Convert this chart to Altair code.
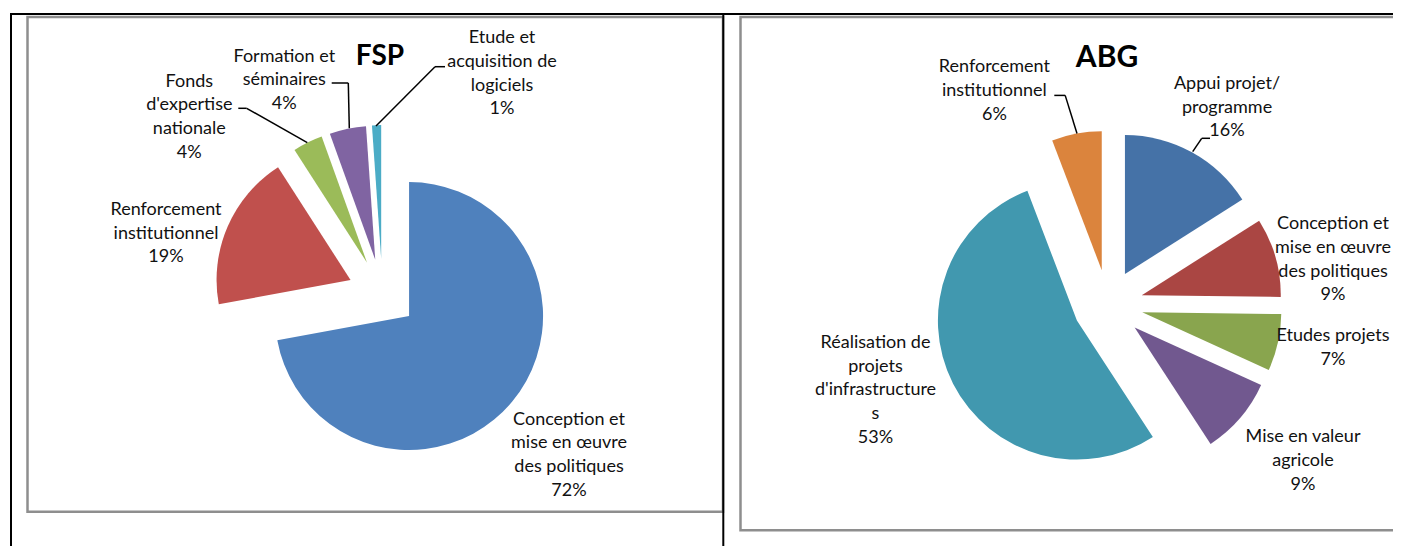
import altair as alt
import pandas as pd

# ---------------- data ----------------
fsp_categories = [
    "Conception et mise en œuvre des politiques",
    "Renforcement institutionnel",
    "Fonds d'expertise nationale",
    "Formation et séminaires",
    "Etude et acquisition de logiciels",
]
fsp_values = [72.1, 18.8, 3.6, 4.4, 1.1]
fsp_label_lines = [
    "Conception et\nmise en œuvre\ndes politiques",
    "Renforcement\ninstitutionnel",
    "Fonds\nd'expertise\nnationale",
    "Formation et\nséminaires",
    "Etude et\nacquisition de\nlogiciels",
]
fsp_colors = ["#4F81BD", "#C0504D", "#9BBB59", "#8064A2", "#4BACC6"]

abg_categories = [
    "Appui projet/programme",
    "Conception et mise en œuvre des politiques",
    "Etudes projets",
    "Mise en valeur agricole",
    "Réalisation de projets d'infrastructures",
    "Renforcement institutionnel",
]
abg_values = [16.0, 9.2, 6.6, 9.0, 53.4, 5.8]
abg_label_lines = [
    "Appui projet/\nprogramme",
    "Conception et\nmise en œuvre\ndes politiques",
    "Etudes projets",
    "Mise en valeur\nagricole",
    "Réalisation de\nprojets\nd'infrastructure\ns",
    "Renforcement\ninstitutionnel",
]
abg_colors = ["#4572A7", "#AA4643", "#89A54E", "#71588F", "#4198AF", "#DB843D"]

# ---------------- layout (page pixels) ----------------
OFF = 8
FONT = "Lato"
LABEL_SIZE = 18
LINE_H = 23.7

fsp_layout = dict(center=(382.4, 293.8), radius=134, explode=34.7,
                  label_pos=[(569, 424.5), (166, 215), (189.3, 86.7), (284.3, 61.7), (502, 43.3)],
                  title="FSP", title_pos=(380, 65), title_size=28)
abg_layout = dict(center=(1108.1, 304.7), radius=139, explode=35,
                  label_pos=[(1227, 89), (1333, 229.3), (1333, 341), (1303, 442.4), (875.5, 348), (994.4, 72.4)],
                  title="ABG", title_pos=(1107, 67), title_size=30)

fsp_leaders = [((435, 66.7), (445, 66.7)), ((435, 66.7), (376, 126)),
               ((331.7, 83), (348.3, 83)), ((348.3, 83), (349.3, 128.3)),
               ((238.3, 108.3), (246.7, 108.3)), ((246.7, 108.3), (307.3, 142.7))]
abg_leaders = [((1054.3, 95.4), (1065.2, 95.4)), ((1065.2, 95.4), (1077, 133.5)),
               ((1201.7, 138.3), (1210, 138.3)), ((1201.7, 138.3), (1192.7, 151.7))]

NOX = dict(scale=None, axis=None)


def pie(cats, vals, lines, colors, lay):
    cx, cy = lay["center"]
    total = sum(vals)
    df = pd.DataFrame({
        "category": cats,
        "value": vals,
        "order": list(range(len(cats))),
        "label": [f"{l}\n{round(v * 100 / total)}%" for l, v in zip(lines, vals)],
        "lx": [p[0] - OFF for p in lay["label_pos"]],
        "ly": [p[1] - OFF for p in lay["label_pos"]],
    })
    base = (
        alt.Chart(df)
        .transform_joinaggregate(total="sum(value)")
        .transform_window(cum="sum(value)", sort=[alt.SortField("order")], frame=[None, 0])
        .transform_calculate(t0="2*PI*(datum.cum - datum.value)/datum.total")
        .transform_calculate(t1="2*PI*datum.cum/datum.total")
        .transform_calculate(tm="(datum.t0 + datum.t1)/2")
        .transform_calculate(px=f"{cx - OFF} + {lay['explode']}*sin(datum.tm)")
        .transform_calculate(py=f"{cy - OFF} - {lay['explode']}*cos(datum.tm)")
    )
    arcs = base.mark_arc(radius=lay["radius"]).encode(
        x=alt.X("px:Q", **NOX),
        y=alt.Y("py:Q", **NOX),
        theta=alt.Theta("t0:Q", scale=None),
        theta2="t1:Q",
        color=alt.Color("category:N", scale=alt.Scale(domain=cats, range=colors), legend=None),
    )
    texts = alt.Chart(df).mark_text(
        lineBreak="\n", lineHeight=LINE_H, align="center", baseline="alphabetic",
        font=FONT, fontSize=LABEL_SIZE, color="#111111",
    ).encode(
        x=alt.X("lx:Q", **NOX),
        y=alt.Y("ly:Q", **NOX),
        text="label:N",
    )
    tx, ty = lay["title_pos"]
    title = alt.Chart(pd.DataFrame({"t": [lay["title"]]})).mark_text(
        align="center", baseline="alphabetic", font=FONT, fontSize=lay["title_size"],
        fontWeight="bold", color="#000000",
    ).encode(x=alt.value(tx - OFF), y=alt.value(ty - OFF), text="t:N")
    return [arcs, texts, title]


def segments(segs, width, color):
    df = pd.DataFrame({
        "x": [a[0] - OFF for a, b in segs], "y": [a[1] - OFF for a, b in segs],
        "x2": [b[0] - OFF for a, b in segs], "y2": [b[1] - OFF for a, b in segs],
    })
    return alt.Chart(df).mark_rule(strokeWidth=width, color=color).encode(
        x=alt.X("x:Q", **NOX), y=alt.Y("y:Q", **NOX), x2="x2:Q", y2="y2:Q")


def box(x0, y0, x1, y1):
    return alt.Chart(pd.DataFrame({"k": [0]})).mark_rect(
        fillOpacity=0, stroke="#8E8E8E", strokeWidth=2.5
    ).encode(x=alt.value(x0 - OFF), x2=alt.value(x1 - OFF), y=alt.value(y0 - OFF), y2=alt.value(y1 - OFF))


boxes = [box(27.5, 17, 723, 511.7), box(740.5, 17, 1430, 530.3)]
table_lines = segments([((10, 14), (1410, 14)), ((11, 13), (11, 560)), ((723.3, 13), (723.3, 560))], 2, "#000000")

layers = boxes + [table_lines]
layers += pie(fsp_categories, fsp_values, fsp_label_lines, fsp_colors, fsp_layout)
layers += pie(abg_categories, abg_values, abg_label_lines, abg_colors, abg_layout)
layers += [segments(fsp_leaders, 1.5, "#000000"), segments(abg_leaders, 1.5, "#000000")]

chart = (
    alt.layer(*layers)
    .resolve_scale(color="independent")
    .properties(width=1385, height=538, padding=0, autosize=alt.AutoSizeParams(type="none"),
                background="white")
    .configure_view(stroke=None)
)

chart.save("out.html", embed_options={"renderer": "svg", "actions": False})
